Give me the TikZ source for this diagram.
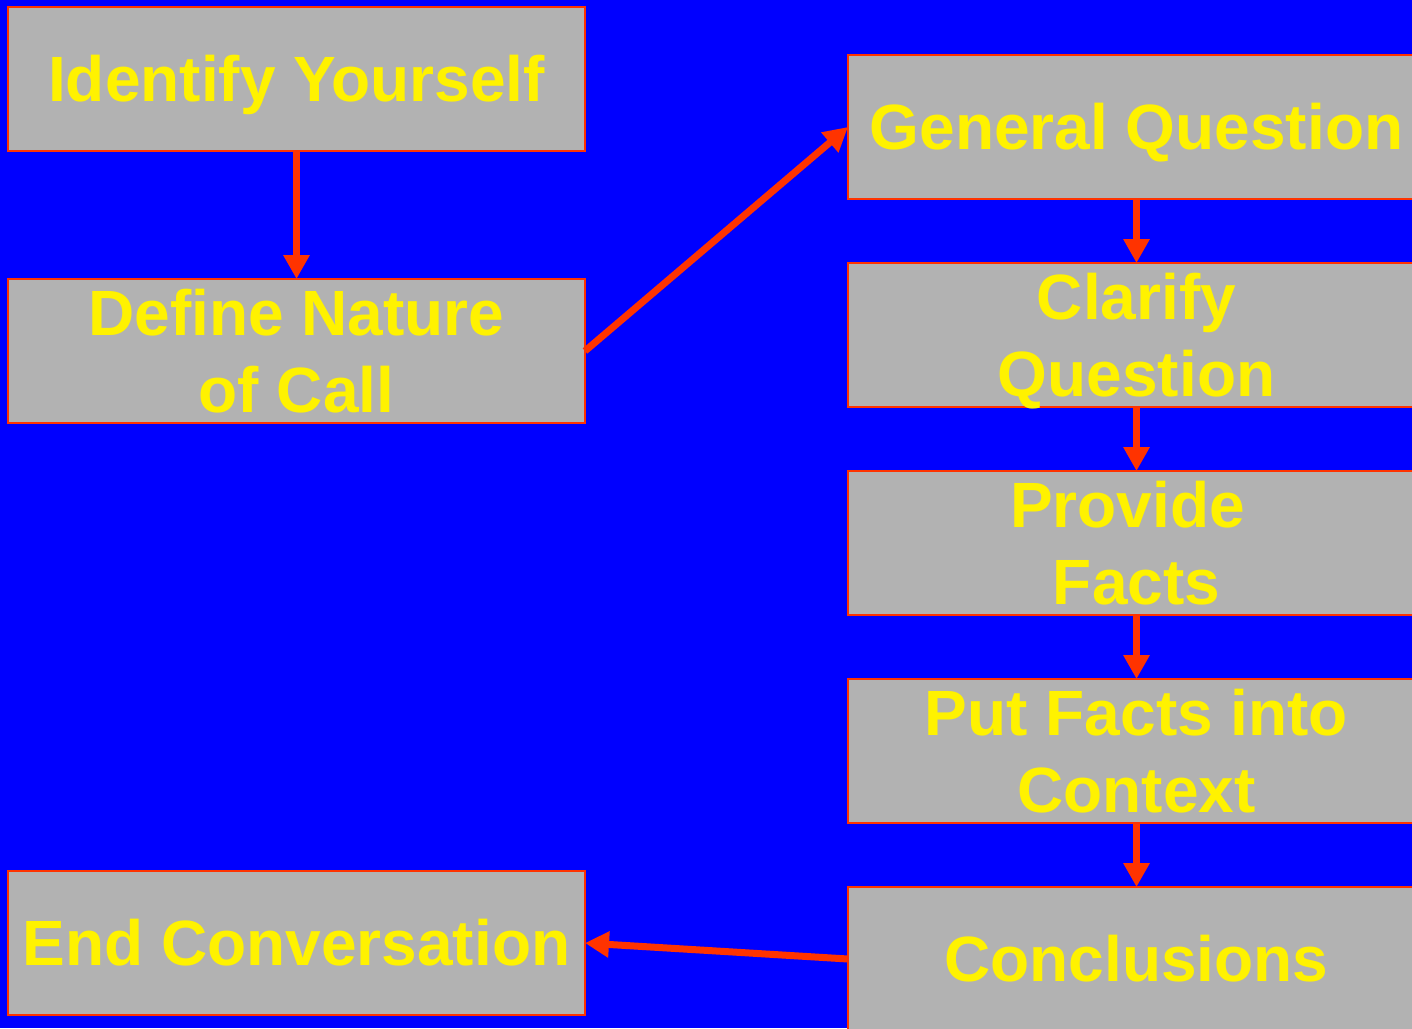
\documentclass[tikz,border=0pt]{standalone}
\usepackage{fontspec}
\setmainfont{Liberation Sans}
\usetikzlibrary{arrows.meta,positioning}
\definecolor{boxgray}{RGB}{178,178,178}
\definecolor{flowred}{RGB}{255,51,0}
\tikzset{>={Triangle[length=12pt,width=12.5pt]}}

\begin{document}
\begin{tikzpicture}[
  stage/.style={draw=flowred, line width=0.75pt, fill=boxgray, text=yellow,
    minimum width=288.5pt, minimum height=72pt, inner sep=0pt, outer sep=0pt,
    align=center, text depth=0pt,
    font=\fontsize{32pt}{38.3pt}\selectfont\bfseries},
  oneline/.style={text height=22.9pt},
  node distance=32pt
]
\useasboundingbox (0,0) rectangle (706pt,-514pt);
\fill[blue] (0,0) rectangle (706pt,-514pt);
% left column
\node[stage, oneline] (ident) at (148.25pt,-39.5pt) {Identify Yourself};
\node[stage, below=64pt of ident] (define) {Define Nature\\of Call};
\node[stage, oneline] (endc) at (148.25pt,-471.5pt) {End Conversation};
% right column
\node[stage, oneline] (general) at (568.25pt,-63.5pt) {General Question};
\node[stage, below=of general] (clarify) {Clarify\\Question};
\node[stage, below=of clarify] (provide) {Provide\hspace*{0.28em}\\Facts};
\node[stage, below=of provide] (context) {Put Facts into\\Context};
\node[stage, oneline, below=of context] (concl) {Conclusions};
\path[->, flowred, line width=3.5pt]
(ident) edge (define)
(define.east) edge (general.west)
(general) edge (clarify)
(clarify) edge (provide)
(provide) edge (context)
(context) edge (concl)
(concl.west) edge (endc.east)
;
\end{tikzpicture}
\end{document}
